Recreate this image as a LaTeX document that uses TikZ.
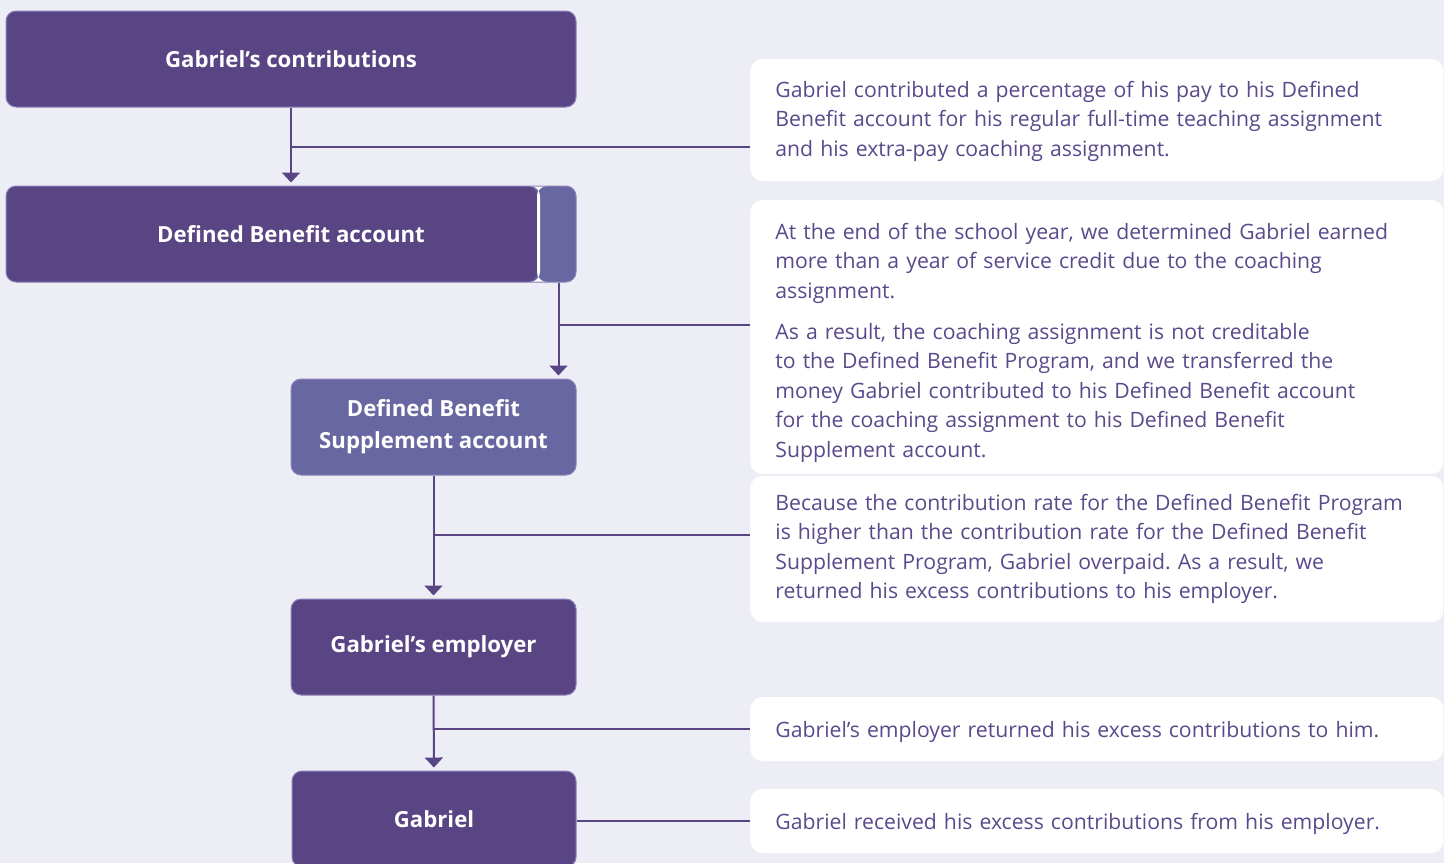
\documentclass[tikz,border=0pt]{standalone}
\usepackage{fontspec}
\setmainfont{Open Sans}
\usetikzlibrary{arrows.meta,positioning,calc}

\definecolor{pagebg}{HTML}{EDEDF6}
\definecolor{darkpurple}{HTML}{594583}
\definecolor{lightpurple}{HTML}{6867A1}
\definecolor{edgepurple}{HTML}{8C82BA}
\definecolor{notetext}{HTML}{5A4A8C}

\begin{document}
\begin{tikzpicture}[x=0.5pt, y=-0.5pt,
  stage/.style={fill=darkpurple, draw=edgepurple, line width=0.5pt,
    rounded corners=5pt, text=white, align=center, inner sep=0pt,
    minimum height=48pt, font=\bfseries\fontsize{11.1}{16}\selectfont},
  note/.style={fill=white, rounded corners=6pt, text=notetext, align=left,
    anchor=west, text width=321.5pt, inner xsep=12.5pt, inner ysep=0pt,
    font=\fontsize{10.6}{14.75}\selectfont\frenchspacing},
  flow/.style={draw=darkpurple, line width=1pt,
    -{Triangle[width=9pt,length=5pt]}, shorten >=1.5pt},
  link/.style={draw=darkpurple, line width=1pt}]

% page
\fill[pagebg] (0,0) rectangle (1444,863);
\useasboundingbox (0,0) rectangle (1444,863);

% ================= LEFT: ACCOUNT FLOW =================
\node[stage, minimum width=285pt] (contrib) at (291,59) {Gabriel’s contributions};

\node[stage, minimum width=285pt, fill=lightpurple,
  path picture={
    \fill[darkpurple] (path picture bounding box.south west)
      rectangle ([xshift=-19.5pt]path picture bounding box.north east);
    \fill[white] ([xshift=-19.5pt]path picture bounding box.south east)
      rectangle ([xshift=-18pt]path picture bounding box.north east);
  }] (dbacct) at (291,234) {Defined Benefit account};

\node[stage, minimum width=142.5pt, fill=lightpurple] (dbsupp) at (433.5,427)
  {Defined Benefit\\Supplement account};

\node[stage, minimum width=142.5pt] (employer) at (433.5,647) {Gabriel’s employer};

\node[stage, minimum width=142pt] (gabriel) at (434,819) {Gabriel};

% ================= RIGHT: NOTES =================
\node[note, minimum height=61pt] (note1) at (750,120)
  {\rule{0pt}{9.5pt}Gabriel contributed a percentage of his pay to his Defined\\
   Benefit account for his regular full-time teaching assignment\\
   and his extra-pay coaching assignment.};

\node[note, minimum height=137pt] (note2) at (750,337)
  {\rule{0pt}{14pt}At the end of the school year, we determined Gabriel earned\\
   more than a year of service credit due to the coaching\\
   assignment.\\[5.75pt]
   As a result, the coaching assignment is not creditable\\
   to the Defined Benefit Program, and we transferred the\\
   money Gabriel contributed to his Defined Benefit account\\
   for the coaching assignment to his Defined Benefit\\
   Supplement account.};

\node[note, minimum height=73pt] (note3) at (750,549)
  {Because the contribution rate for the Defined Benefit Program\\
   is higher than the contribution rate for the Defined Benefit\\
   Supplement Program, Gabriel overpaid. As a result, we\\
   returned his excess contributions to his employer.};

\node[note, minimum height=32pt] (note4) at (750,729)
  {\rule{0pt}{11pt}Gabriel’s employer returned his excess contributions to him.};

\node[note, minimum height=32pt] (note5) at (750,821)
  {\rule{0pt}{11pt}Gabriel received his excess contributions from his employer.};

% ================= CONNECTORS =================
\coordinate (stripend) at ([xshift=-9pt]dbacct.south east);
\coordinate (j1) at (291,147);
\coordinate (j2) at (558,325);
\coordinate (j3) at (433.5,535);

\draw[flow] (contrib) -- (dbacct);
\draw[link] (j1) -- (j1 -| note1.west);

\draw[flow] (stripend) -- (stripend |- dbsupp.north);
\draw[link] (j2) -- (j2 -| note2.west);

\draw[flow] (dbsupp) -- (employer);
\draw[link] (j3) -- (j3 -| note3.west);

\draw[flow] (employer) -- (gabriel);
\draw[link] (employer.south |- note4.west) -- (note4.west);

\draw[link] (gabriel.east |- note5.west) -- (note5.west);

\end{tikzpicture}
\end{document}
